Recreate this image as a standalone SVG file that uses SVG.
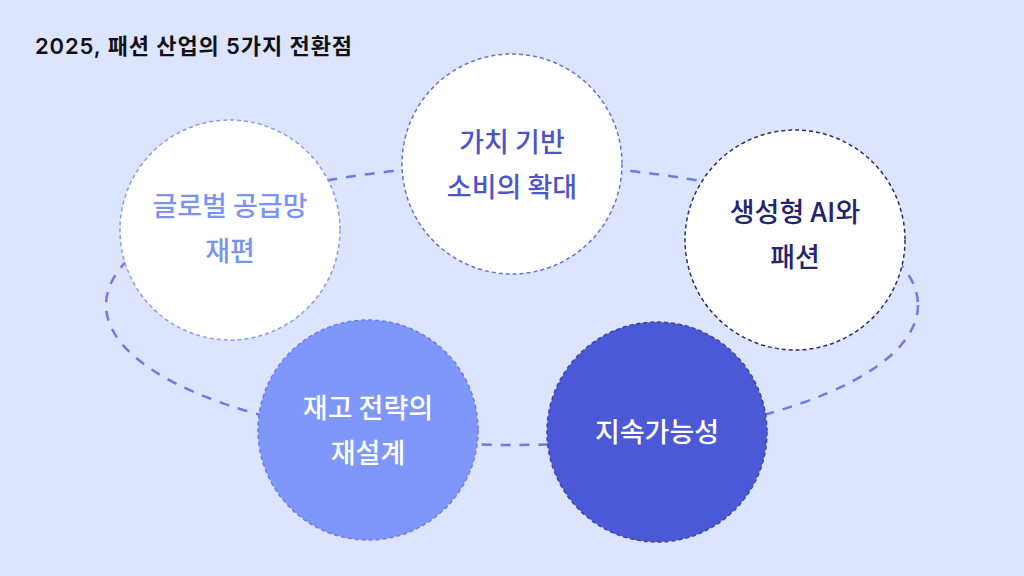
<svg xmlns="http://www.w3.org/2000/svg" width="1024" height="576" viewBox="0 0 1024 576">
<style>
.t{font-family:"Noto Sans CJK KR","Noto Sans",sans-serif;font-weight:500;text-anchor:middle;font-size:27px}
.c{stroke-width:1.5;stroke-dasharray:4 3}
</style>
<rect width="1024" height="576" fill="#dce5fd"/>
<text x="35" y="54" font-family="Inter,'Noto Sans CJK KR',sans-serif" font-weight="600" font-size="22" textLength="317" fill="#111">2025, 패션 산업의 5가지 전환점</text>
<g id="connectors">
<ellipse cx="512" cy="305" rx="406" ry="140" fill="none" stroke="#6f7ae2" stroke-width="2.5" stroke-dasharray="10 9"/>
</g>
<g id="n1"><circle cx="230" cy="230" r="110" fill="#fff" stroke="#8a9cf0" class="c"/>
<text class="t" x="230" y="216" fill="#7b93f5">글로벌 공급망</text>
<text class="t" x="230" y="261" fill="#7b93f5">재편</text></g>
<g id="n2"><circle cx="512" cy="164" r="110" fill="#fff" stroke="#6670dc" class="c"/>
<text class="t" x="512" y="152" fill="#4c56c9">가치 기반</text>
<text class="t" x="512" y="197" fill="#4c56c9">소비의 확대</text></g>
<g id="n3"><circle cx="795" cy="240" r="110" fill="#fff" stroke="#2b2d70" class="c"/>
<text class="t" x="795" y="222" fill="#23236e">생성형 AI와</text>
<text class="t" x="795" y="267" fill="#23236e">패션</text></g>
<g id="n4"><circle cx="368" cy="430" r="110" fill="#7f97fb" stroke="#6c7ce8" class="c"/>
<text class="t" x="368" y="418" fill="#fff">재고 전략의</text>
<text class="t" x="368" y="463" fill="#fff">재설계</text></g>
<g id="n5"><circle cx="657" cy="432" r="110" fill="#4c59d6" stroke="#3a44b0" class="c"/>
<text class="t" x="657" y="442" fill="#fff">지속가능성</text></g>
</svg>
